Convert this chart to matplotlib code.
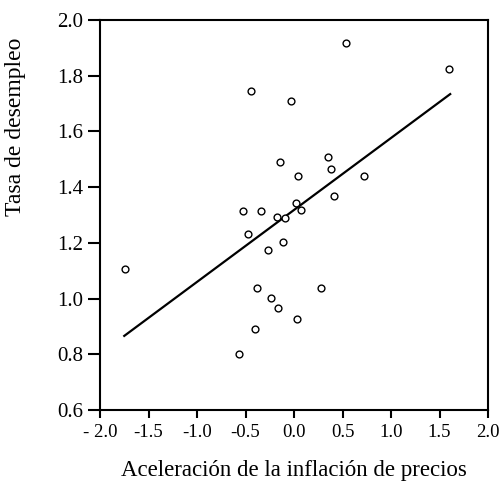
import matplotlib
matplotlib.use("Agg")
import matplotlib.pyplot as plt

x_vals = [0.533, 1.594, -0.44, -0.034, 0.351, -0.141, 0.385, 0.045, 0.725, 0.409,
          0.024, -0.522, -0.343, 0.076, -0.179, -0.09, -0.471, -0.113, -0.265,
          -1.746, -0.385, 0.275, -0.24, -0.165, 0.031, -0.405, -0.564]
y_vals = [1.916, 1.825, 1.745, 1.709, 1.509, 1.489, 1.465, 1.439, 1.440, 1.367,
          1.343, 1.316, 1.314, 1.319, 1.292, 1.289, 1.232, 1.203, 1.174,
          1.106, 1.038, 1.039, 1.002, 0.967, 0.927, 0.891, 0.801]
fit_x = [-1.75, 1.61]
fit_y = [0.866, 1.734]

x_ticks = [-2.0, -1.5, -1.0, -0.5, 0.0, 0.5, 1.0, 1.5, 2.0]
x_ticklabels = ["- 2.0", "-1.5", "-1.0", "-0.5", "0.0", "0.5", "1.0", "1.5", "2.0"]
y_ticks = [0.6, 0.8, 1.0, 1.2, 1.4, 1.6, 1.8, 2.0]
y_ticklabels = ["0.6", "0.8", "1.0", "1.2", "1.4", "1.6", "1.8", "2.0"]

plt.rcParams['font.family'] = ['Liberation Serif', 'DejaVu Serif']

fig = plt.figure(figsize=(4.99, 4.96), dpi=100)
ax = fig.add_axes([0.2004, 0.1734, 0.7776, 0.7863])
ax.plot(fit_x, fit_y, color='black', lw=1.6, zorder=2)
ax.scatter(x_vals, y_vals, s=24, facecolors='white', edgecolors='black', linewidths=1.0, zorder=3)
ax.set_xlim(-2.0, 2.0)
ax.set_ylim(0.6, 2.0)
ax.set_xticks(x_ticks)
ax.set_xticklabels(x_ticklabels)
ax.set_yticks(y_ticks)
ax.set_yticklabels(y_ticklabels)
ax.tick_params(axis='x', direction='out', length=6, width=1.5, labelsize=13.5, pad=4)
ax.tick_params(axis='y', direction='out', length=9, width=1.5, labelsize=15, pad=3)
for s in ax.spines.values():
    s.set_linewidth(1.5)
ax.set_xlabel("Aceleración de la inflación de precios", fontsize=16.5)
ax.xaxis.set_label_coords(0.5, -0.128)
ax.set_ylabel("Tasa de desempleo", fontsize=17)
ax.yaxis.set_label_coords(-0.19, 0.726)
fig.savefig("out.png", dpi=100)
